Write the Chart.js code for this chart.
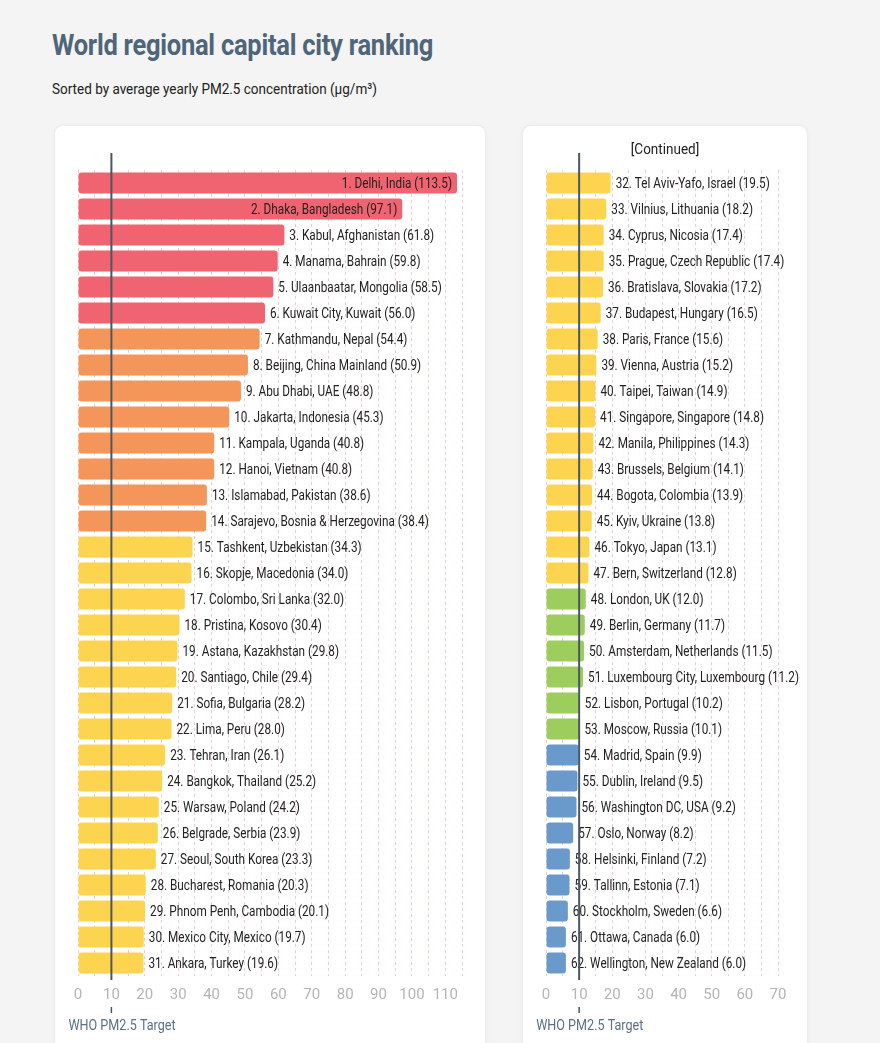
<!DOCTYPE html>
<html>
<head>
<meta charset="utf-8">
<script src="https://cdn.jsdelivr.net/npm/chart.js@4"></script>
<style>
  body { margin: 0; background: #f4f4f4; font-family: Roboto, sans-serif; width: 880px; height: 1043px; overflow: hidden; position: relative; }
  h1 { position: absolute; left: 52px; top: 28px; margin: 0; font-size: 29px; font-weight: 700; color: #4f6579; transform: scaleX(0.88); transform-origin: left; letter-spacing: -0.3px; }
  .sub { position: absolute; left: 52px; top: 80px; font-size: 15px; color: #222; transform: scaleX(0.9); transform-origin: left; }
  .card { position: absolute; top: 126px; height: 940px; background: #fff; border-radius: 8px; box-shadow: 0 0 4px rgba(0,0,0,0.08); }
  .card canvas { position: absolute; left: 0; top: 0; }
</style>
</head>
<body>
<h1>World regional capital city ranking</h1>
<div class="sub">Sorted by average yearly PM2.5 concentration (µg/m³)</div>
<div class="card" style="left:55px;width:430px"><canvas id="left"></canvas></div>
<div class="card" style="left:523px;width:284px"><canvas id="right"></canvas></div>
<script>
const namesLeft = ['Delhi, India', 'Dhaka, Bangladesh', 'Kabul, Afghanistan', 'Manama, Bahrain', 'Ulaanbaatar, Mongolia',
  'Kuwait City, Kuwait', 'Kathmandu, Nepal', 'Beijing, China Mainland', 'Abu Dhabi, UAE', 'Jakarta, Indonesia',
  'Kampala, Uganda', 'Hanoi, Vietnam', 'Islamabad, Pakistan', 'Sarajevo, Bosnia & Herzegovina', 'Tashkent, Uzbekistan',
  'Skopje, Macedonia', 'Colombo, Sri Lanka', 'Pristina, Kosovo', 'Astana, Kazakhstan', 'Santiago, Chile',
  'Sofia, Bulgaria', 'Lima, Peru', 'Tehran, Iran', 'Bangkok, Thailand', 'Warsaw, Poland', 'Belgrade, Serbia',
  'Seoul, South Korea', 'Bucharest, Romania', 'Phnom Penh, Cambodia', 'Mexico City, Mexico', 'Ankara, Turkey'];
const valuesLeft = [113.5, 97.1, 61.8, 59.8, 58.5, 56.0, 54.4, 50.9, 48.8, 45.3, 40.8, 40.8, 38.6, 38.4, 34.3,
  34.0, 32.0, 30.4, 29.8, 29.4, 28.2, 28.0, 26.1, 25.2, 24.2, 23.9, 23.3, 20.3, 20.1, 19.7, 19.6];
const namesRight = ['Tel Aviv-Yafo, Israel', 'Vilnius, Lithuania', 'Cyprus, Nicosia', 'Prague, Czech Republic',
  'Bratislava, Slovakia', 'Budapest, Hungary', 'Paris, France', 'Vienna, Austria', 'Taipei, Taiwan',
  'Singapore, Singapore', 'Manila, Philippines', 'Brussels, Belgium', 'Bogota, Colombia', 'Kyiv, Ukraine',
  'Tokyo, Japan', 'Bern, Switzerland', 'London, UK', 'Berlin, Germany', 'Amsterdam, Netherlands',
  'Luxembourg City, Luxembourg', 'Lisbon, Portugal', 'Moscow, Russia', 'Madrid, Spain', 'Dublin, Ireland',
  'Washington DC, USA', 'Oslo, Norway', 'Helsinki, Finland', 'Tallinn, Estonia', 'Stockholm, Sweden',
  'Ottawa, Canada', 'Wellington, New Zealand'];
const valuesRight = [19.5, 18.2, 17.4, 17.4, 17.2, 16.5, 15.6, 15.2, 14.9, 14.8, 14.3, 14.1, 13.9, 13.8,
  13.1, 12.8, 12.0, 11.7, 11.5, 11.2, 10.2, 10.1, 9.9, 9.5, 9.2, 8.2, 7.2, 7.1, 6.6, 6.0, 6.0];
const whoTarget = 10;

function barColor(v) {
  if (v >= 55.5) return '#ef6470';
  if (v >= 35.5) return '#f4965a';
  if (v >= 12.1) return '#fdd44f';
  if (v >= 10) return '#9dcd5c';
  return '#6a9acb';
}

const SQ = 0.84; // horizontal squeeze to mimic a condensed face

const labelPlugin = {
  id: 'labels',
  afterDatasetsDraw(chart, args, opts) {
    const ctx = chart.ctx;
    const meta = chart.getDatasetMeta(0);
    const maxRight = chart.width - opts.edge;
    ctx.save();
    ctx.fillStyle = '#222';
    ctx.textBaseline = 'middle';
    meta.data.forEach((bar, i) => {
      const text = `${opts.start + i}. ${chart.data.labels[i]} (${chart.data.datasets[0].data[i].toFixed(1)})`;
      let size = 14;
      ctx.font = `${size}px Roboto`;
      let w = ctx.measureText(text).width * SQ;
      let x;
      if (bar.x + 5 + w <= maxRight) {
        x = bar.x + 5;
      } else if (bar.x - bar.base > w + 10) {
        x = bar.x - 5 - w;
      } else {
        while (bar.x + 5 + w > maxRight && size > 8) {
          size -= 0.5;
          ctx.font = `${size}px Roboto`;
          w = ctx.measureText(text).width * SQ;
        }
        x = bar.x + 5;
      }
      ctx.save();
      ctx.translate(x, bar.y + 1);
      ctx.scale(SQ, 1);
      ctx.fillText(text, 0, 0);
      ctx.restore();
    });
    if (opts.title) {
      ctx.font = '15px Roboto';
      ctx.textAlign = 'center';
      ctx.translate(chart.width / 2, 24);
      ctx.scale(0.9, 1);
      ctx.fillText(opts.title, 0, 0);
    }
    ctx.restore();
  }
};

const whoPlugin = {
  id: 'who',
  afterDatasetsDraw(chart) {
    const ctx = chart.ctx;
    const x = chart.scales.x.getPixelForValue(whoTarget);
    const { top, bottom } = chart.chartArea;
    ctx.save();
    ctx.strokeStyle = '#4a5866';
    ctx.lineWidth = 2;
    ctx.beginPath();
    ctx.moveTo(x, top - 17);
    ctx.lineTo(x, bottom + 4);
    ctx.stroke();
    ctx.lineWidth = 1.5;
    ctx.beginPath();
    ctx.moveTo(x, bottom + 31);
    ctx.lineTo(x, bottom + 37);
    ctx.stroke();
    ctx.fillStyle = '#5b7088';
    ctx.font = '15px Roboto';
    ctx.textBaseline = 'middle';
    ctx.translate(x - 43, bottom + 50);
    ctx.scale(SQ, 1);
    ctx.fillText('WHO PM2.5 Target', 0, 0);
    ctx.restore();
  }
};

function makeChart(id, names, values, start, max, width, rightPad, title) {
  const canvas = document.getElementById(id);
  canvas.width = width;
  canvas.height = 917;
  canvas.style.width = width + 'px';
  canvas.style.height = '917px';
  return new Chart(canvas, {
    type: 'bar',
    data: {
      labels: names,
      datasets: [{
        data: values,
        backgroundColor: values.map(barColor),
        borderRadius: 3,
        borderSkipped: false,
        categoryPercentage: 0.8,
        barPercentage: 1
      }]
    },
    options: {
      indexAxis: 'y',
      responsive: false,
      animation: false,
      devicePixelRatio: 1,
      layout: { padding: { left: 23, right: rightPad, top: 44, bottom: 29 } },
      scales: {
        y: { display: false },
        x: {
          min: 0, max: max,
          border: { display: false, dash: [3, 3] },
          grid: { color: 'rgba(235,150,150,0.5)', drawTicks: false },
          ticks: {
            stepSize: 5,
            autoSkip: false,
            maxRotation: 0,
            color: '#b5b5b5',
            padding: 10,
            font: { family: 'Roboto', size: 15 },
            callback: v => v % 10 === 0 ? v : ''
          }
        }
      },
      plugins: {
        legend: { display: false },
        tooltip: { enabled: false },
        labels: { start: start, edge: 6, title: title }
      }
    },
    plugins: [labelPlugin, whoPlugin]
  });
}

makeChart('left', namesLeft, valuesLeft, 1, 115, 430, 23, '');
makeChart('right', namesRight, valuesRight, 32, 70, 284, 29, '[Continued]');
</script>
</body>
</html>
